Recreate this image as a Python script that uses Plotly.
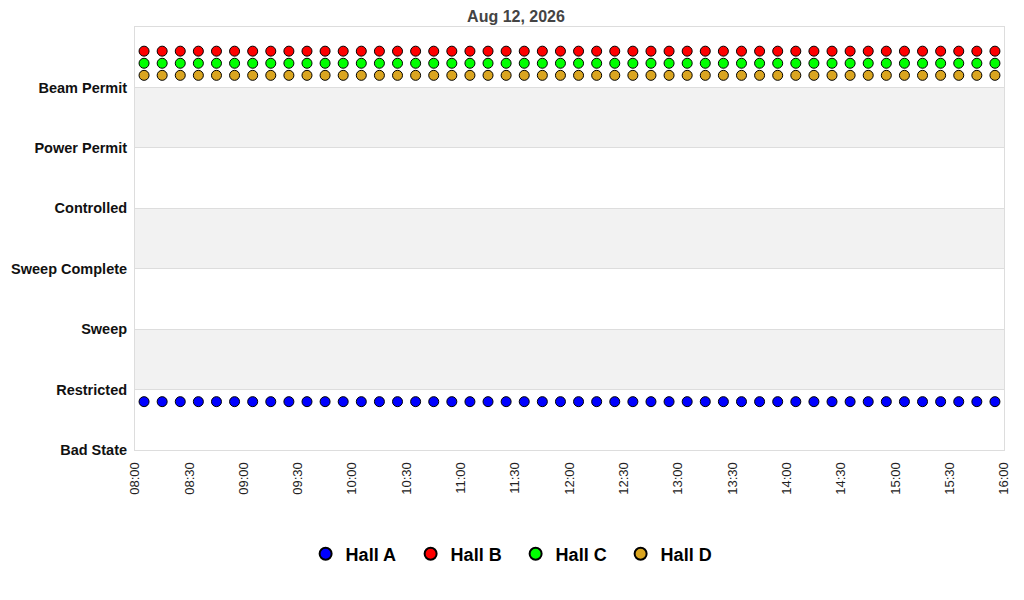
import pandas as pd
import plotly.graph_objects as go

# Data
state_labels = ["Bad State", "Restricted", "Sweep", "Sweep Complete",
                "Controlled", "Power Permit", "Beam Permit"]
halls = ["Hall A", "Hall B", "Hall C", "Hall D"]
hall_colors = ["#0000ff", "#ff0000", "#00ff00", "#daa520"]
# state index per hall (constant over the day) and plotting offset
hall_state = [1, 6, 6, 6]
hall_offset = [-0.2, 0.6, 0.4, 0.2]
times = pd.date_range("2026-08-12 08:05", "2026-08-12 15:55", freq="10min")

fig = go.Figure()

for name, color, st, off in zip(halls, hall_colors, hall_state, hall_offset):
    fig.add_trace(go.Scatter(
        x=times,
        y=[st + off] * len(times),
        mode="markers",
        name="<b>%s</b>" % name,
        marker=dict(symbol="circle", size=10, color=color,
                    line=dict(color="black", width=1)),
    ))

# alternating background bands
for i in range(1, len(state_labels), 2):
    fig.add_shape(type="rect", xref="paper", yref="y", x0=0, x1=1,
                  y0=i, y1=i + 1, fillcolor="#f2f2f2", line_width=0,
                  layer="below")

# page has an 8px body margin, so the figure is a bit smaller than the window
fig.update_layout(
    width=1016,
    height=592,
    title=dict(text="<b>Aug 12, 2026</b>", x=0.5, xanchor="center",
               y=0.985, yanchor="middle",
               font=dict(family="Liberation Sans", size=16, color="#444444")),
    margin=dict(l=127, r=20, t=19, b=150),
    paper_bgcolor="white",
    plot_bgcolor="white",
    font=dict(family="Liberation Sans", color="black"),
    showlegend=True,
    # legend is centred on the whole figure, not the plot area
    legend=dict(orientation="h", x=0.438, xanchor="center",
                y=-0.246, yanchor="middle",
                font=dict(family="Liberation Sans", size=18, color="black"),
                entrywidth=60, entrywidthmode="pixels",
                itemsizing="constant"),
)

fig.update_xaxes(
    range=["2026-08-12 08:00", "2026-08-12 16:00"],
    tickformat="%H:%M",
    dtick=30 * 60 * 1000,
    tick0="2026-08-12 08:00",
    tickangle=-90,
    tickfont=dict(size=13, color="#222222"),
    ticklabelstandoff=6,
    automargin=False,
    showgrid=False,
    zeroline=False,
    showline=True, linecolor="#dddddd", mirror=True,
    ticks="", ticklen=0,
)

fig.update_yaxes(
    range=[0, 7],
    tickvals=list(range(len(state_labels))),
    ticktext=["<b>%s</b>" % s for s in state_labels],
    tickfont=dict(size=14.5, color="#111111"),
    ticklabelstandoff=4,
    automargin=False,
    showgrid=True, gridcolor="#dddddd",
    zeroline=False,
    showline=True, linecolor="#dddddd", mirror=True,
    ticks="", ticklen=0,
)

fig.write_html("out.html")
